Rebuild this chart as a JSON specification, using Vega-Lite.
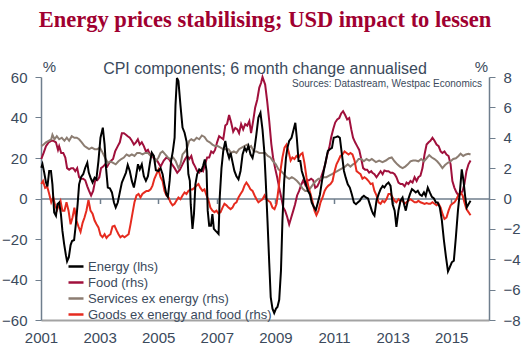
{
"$schema": "https://vega.github.io/schema/vega-lite/v6.json",
"width": 448, "height": 243,
"autosize": {"type": "none"},
"padding": {"left": 41, "top": 77, "right": 39, "bottom": 36},
"background": "white",
"title": {"text": "Energy prices stabilising; USD impact to lessen", "subtitle": "CPI components; 6 month change annualised", "font": "Liberation Serif", "fontSize": 22.5, "fontWeight": "bold", "color": "#a00030", "subtitleFont": "Liberation Sans", "subtitleFontSize": 16, "subtitleColor": "#3b4a5c", "subtitlePadding": 30, "anchor": "middle", "frame": "group", "offset": -18},
"config": {
 "view": {"stroke": null},
 "axis": {"labelFont": "Liberation Sans", "titleFont": "Liberation Sans", "grid": false, "domainColor": "#6f7e8d", "tickColor": "#6f7e8d", "labelColor": "#3b4a5c", "titleColor": "#3b4a5c", "labelFontSize": 15, "titleFontSize": 15, "titleFontWeight": "normal", "labelOverlap": false, "labelSeparation": 0, "labelBound": false},
 "legend": {"orient": "none", "legendX": 26, "legendY": 180.5, "symbolType": "stroke", "symbolSize": 225, "symbolStrokeWidth": 2.5, "labelFont": "Liberation Sans", "labelFontSize": 13, "labelColor": "#3b4a5c", "labelLimit": 0, "rowPadding": 0, "padding": 0, "labelOffset": 3, "title": null}
},
"datasets": {
"e": [
{"t":2001.01,"v":15.2},{"t":2001.05,"v":17},{"t":2001.11,"v":12.8},{"t":2001.17,"v":7.9},{"t":2001.22,"v":6},{"t":2001.28,"v":13.6},{"t":2001.34,"v":13.6},{"t":2001.39,"v":7},{"t":2001.45,"v":-6.9},{"t":2001.51,"v":-8.5},{"t":2001.56,"v":-2.8},{"t":2001.62,"v":-2},{"t":2001.68,"v":-7.7},{"t":2001.73,"v":-15.9},{"t":2001.79,"v":-22.5},{"t":2001.85,"v":-28},{"t":2001.89,"v":-31},{"t":2001.95,"v":-29},{"t":2002.01,"v":-23},{"t":2002.06,"v":-21},{"t":2002.13,"v":-20.5},{"t":2002.19,"v":-12.6},{"t":2002.25,"v":-2.8},{"t":2002.30,"v":7},{"t":2002.37,"v":10.7},{"t":2002.44,"v":12},{"t":2002.51,"v":15.2},{"t":2002.58,"v":17.7},{"t":2002.63,"v":12.8},{"t":2002.69,"v":10.3},{"t":2002.76,"v":7.9},{"t":2002.83,"v":10.3},{"t":2002.89,"v":9.5},{"t":2002.96,"v":18.5},{"t":2003.03,"v":30},{"t":2003.11,"v":35},{"t":2003.17,"v":26.7},{"t":2003.22,"v":15},{"t":2003.28,"v":5.4},{"t":2003.35,"v":5},{"t":2003.42,"v":3},{"t":2003.49,"v":-2},{"t":2003.55,"v":-4.4},{"t":2003.62,"v":-2},{"t":2003.69,"v":3},{"t":2003.76,"v":7.9},{"t":2003.83,"v":10.3},{"t":2003.90,"v":12.8},{"t":2003.96,"v":16.6},{"t":2004.03,"v":13.6},{"t":2004.10,"v":8.7},{"t":2004.17,"v":5.4},{"t":2004.24,"v":10.7},{"t":2004.31,"v":16.9},{"t":2004.37,"v":14.4},{"t":2004.44,"v":16.9},{"t":2004.51,"v":11},{"t":2004.58,"v":8.7},{"t":2004.65,"v":11},{"t":2004.72,"v":17.7},{"t":2004.78,"v":22.6},{"t":2004.85,"v":21},{"t":2004.92,"v":14},{"t":2005.01,"v":13.6},{"t":2005.08,"v":15},{"t":2005.15,"v":12},{"t":2005.21,"v":7},{"t":2005.28,"v":2},{"t":2005.33,"v":0.8},{"t":2005.39,"v":8.7},{"t":2005.44,"v":18.5},{"t":2005.50,"v":23.4},{"t":2005.56,"v":30},{"t":2005.59,"v":46},{"t":2005.64,"v":59.5},{"t":2005.69,"v":58},{"t":2005.76,"v":46},{"t":2005.83,"v":35},{"t":2005.90,"v":32.5},{"t":2005.97,"v":28},{"t":2006.03,"v":12},{"t":2006.08,"v":8.7},{"t":2006.11,"v":-2.8},{"t":2006.17,"v":-15},{"t":2006.22,"v":-7.7},{"t":2006.27,"v":7},{"t":2006.33,"v":12},{"t":2006.40,"v":14.4},{"t":2006.47,"v":13.6},{"t":2006.53,"v":16},{"t":2006.59,"v":19.3},{"t":2006.65,"v":13.6},{"t":2006.69,"v":-6},{"t":2006.74,"v":-13.4},{"t":2006.80,"v":-13.4},{"t":2006.85,"v":-7.7},{"t":2006.90,"v":-15},{"t":2006.96,"v":-16},{"t":2007.01,"v":-16.7},{"t":2007.06,"v":-17.5},{"t":2007.10,"v":0.5},{"t":2007.16,"v":15},{"t":2007.22,"v":23.4},{"t":2007.29,"v":28.4},{"t":2007.35,"v":23.4},{"t":2007.42,"v":20},{"t":2007.47,"v":22.6},{"t":2007.54,"v":17.7},{"t":2007.60,"v":13.6},{"t":2007.67,"v":11},{"t":2007.74,"v":9.5},{"t":2007.81,"v":13.6},{"t":2007.88,"v":21.8},{"t":2007.95,"v":25},{"t":2008.01,"v":23.4},{"t":2008.08,"v":26},{"t":2008.15,"v":21.8},{"t":2008.22,"v":20},{"t":2008.29,"v":25},{"t":2008.35,"v":31.6},{"t":2008.42,"v":40},{"t":2008.49,"v":42.3},{"t":2008.56,"v":34},{"t":2008.62,"v":23.4},{"t":2008.67,"v":8.7},{"t":2008.73,"v":-11},{"t":2008.79,"v":-32},{"t":2008.84,"v":-48.7},{"t":2008.90,"v":-54.4},{"t":2008.96,"v":-56.6},{"t":2009.02,"v":-54.4},{"t":2009.07,"v":-53.6},{"t":2009.13,"v":-50},{"t":2009.19,"v":-35.6},{"t":2009.24,"v":-11},{"t":2009.30,"v":8.7},{"t":2009.36,"v":20},{"t":2009.41,"v":25},{"t":2009.47,"v":28.4},{"t":2009.55,"v":30},{"t":2009.62,"v":34},{"t":2009.68,"v":37.4},{"t":2009.73,"v":30},{"t":2009.79,"v":18.5},{"t":2009.85,"v":18.5},{"t":2009.90,"v":13.6},{"t":2009.97,"v":10.3},{"t":2010.04,"v":7},{"t":2010.11,"v":3.8},{"t":2010.18,"v":2},{"t":2010.24,"v":-2},{"t":2010.32,"v":-4.4},{"t":2010.38,"v":-5.7},{"t":2010.45,"v":-2},{"t":2010.52,"v":2},{"t":2010.59,"v":8.7},{"t":2010.65,"v":13.6},{"t":2010.72,"v":18.5},{"t":2010.79,"v":23.4},{"t":2010.86,"v":24.3},{"t":2010.93,"v":25},{"t":2010.99,"v":30},{"t":2011.06,"v":30.3},{"t":2011.13,"v":30.7},{"t":2011.20,"v":30},{"t":2011.27,"v":21.8},{"t":2011.34,"v":13.6},{"t":2011.40,"v":10.3},{"t":2011.47,"v":7},{"t":2011.54,"v":5.4},{"t":2011.61,"v":2},{"t":2011.68,"v":-2},{"t":2011.75,"v":-2.8},{"t":2011.81,"v":-2},{"t":2011.88,"v":-1.1},{"t":2011.95,"v":0.5},{"t":2012.02,"v":1.3},{"t":2012.09,"v":0.5},{"t":2012.16,"v":0},{"t":2012.22,"v":-2.8},{"t":2012.29,"v":-6},{"t":2012.34,"v":-7.7},{"t":2012.38,"v":-8.5},{"t":2012.45,"v":-1.1},{"t":2012.52,"v":2},{"t":2012.59,"v":4.6},{"t":2012.66,"v":6.2},{"t":2012.72,"v":5.4},{"t":2012.79,"v":7},{"t":2012.86,"v":7.9},{"t":2012.93,"v":6.2},{"t":2013.00,"v":-2.8},{"t":2013.07,"v":-6},{"t":2013.13,"v":-14},{"t":2013.20,"v":-6},{"t":2013.27,"v":-1.1},{"t":2013.34,"v":0.5},{"t":2013.40,"v":-3.3},{"t":2013.45,"v":-6},{"t":2013.52,"v":-1.1},{"t":2013.59,"v":2},{"t":2013.66,"v":4.6},{"t":2013.73,"v":3.8},{"t":2013.79,"v":3},{"t":2013.86,"v":3.8},{"t":2013.93,"v":2},{"t":2014.00,"v":1.3},{"t":2014.07,"v":3},{"t":2014.13,"v":1.3},{"t":2014.20,"v":5.4},{"t":2014.27,"v":3},{"t":2014.34,"v":0.8},{"t":2014.41,"v":0},{"t":2014.48,"v":-2},{"t":2014.54,"v":-2},{"t":2014.61,"v":-4.4},{"t":2014.68,"v":-10.7},{"t":2014.75,"v":-20.5},{"t":2014.82,"v":-28.7},{"t":2014.89,"v":-36},{"t":2014.95,"v":-34},{"t":2015.02,"v":-31.5},{"t":2015.09,"v":-30.7},{"t":2015.16,"v":-19},{"t":2015.23,"v":-6},{"t":2015.30,"v":3.8},{"t":2015.36,"v":14.4},{"t":2015.42,"v":8.7},{"t":2015.48,"v":0.5},{"t":2015.53,"v":-4.4},{"t":2015.59,"v":-2.8},{"t":2015.66,"v":-1.1}
],
"f": [
{"t":2001.01,"v":2.6},{"t":2001.09,"v":3.0},{"t":2001.17,"v":3.45},{"t":2001.26,"v":3.7},{"t":2001.35,"v":3.8},{"t":2001.43,"v":3.8},{"t":2001.51,"v":3.7},{"t":2001.58,"v":3.2},{"t":2001.62,"v":3.45},{"t":2001.69,"v":3.0},{"t":2001.76,"v":3.0},{"t":2001.83,"v":2.7},{"t":2001.89,"v":2.0},{"t":2001.96,"v":1.9},{"t":2002.03,"v":2.0},{"t":2002.10,"v":2.0},{"t":2002.17,"v":1.8},{"t":2002.235,"v":2.0},{"t":2002.30,"v":1.4},{"t":2002.37,"v":1.3},{"t":2002.44,"v":1.3},{"t":2002.51,"v":1.2},{"t":2002.58,"v":0.8},{"t":2002.64,"v":0.5},{"t":2002.71,"v":0.2},{"t":2002.78,"v":0.5},{"t":2002.85,"v":1.2},{"t":2002.92,"v":1.2},{"t":2002.99,"v":1.4},{"t":2003.05,"v":2.0},{"t":2003.12,"v":2.1},{"t":2003.19,"v":2.25},{"t":2003.26,"v":2.1},{"t":2003.33,"v":2.35},{"t":2003.40,"v":2.5},{"t":2003.46,"v":2.6},{"t":2003.53,"v":3.1},{"t":2003.62,"v":3.45},{"t":2003.69,"v":3.7},{"t":2003.76,"v":4.3},{"t":2003.83,"v":4.3},{"t":2003.90,"v":4.2},{"t":2003.96,"v":4.1},{"t":2004.03,"v":4.0},{"t":2004.10,"v":3.8},{"t":2004.17,"v":3.55},{"t":2004.24,"v":3.7},{"t":2004.305,"v":3.9},{"t":2004.37,"v":3.55},{"t":2004.44,"v":3.7},{"t":2004.51,"v":3.45},{"t":2004.58,"v":3.1},{"t":2004.65,"v":3.2},{"t":2004.715,"v":2.9},{"t":2004.78,"v":2.9},{"t":2004.85,"v":2.65},{"t":2004.96,"v":2.5},{"t":2005.08,"v":2.1},{"t":2005.19,"v":2.5},{"t":2005.28,"v":2.7},{"t":2005.37,"v":2.6},{"t":2005.47,"v":2.25},{"t":2005.56,"v":2.0},{"t":2005.65,"v":1.7},{"t":2005.74,"v":1.9},{"t":2005.83,"v":2.25},{"t":2005.92,"v":2.6},{"t":2005.99,"v":2.8},{"t":2006.06,"v":2.6},{"t":2006.13,"v":2.8},{"t":2006.19,"v":2.35},{"t":2006.26,"v":2.1},{"t":2006.33,"v":1.8},{"t":2006.40,"v":1.7},{"t":2006.47,"v":1.9},{"t":2006.53,"v":1.8},{"t":2006.60,"v":2.25},{"t":2006.67,"v":2.7},{"t":2006.74,"v":2.7},{"t":2006.81,"v":3.1},{"t":2006.88,"v":3.0},{"t":2006.94,"v":3.2},{"t":2007.01,"v":3.7},{"t":2007.08,"v":4.1},{"t":2007.15,"v":4.0},{"t":2007.22,"v":3.9},{"t":2007.29,"v":4.8},{"t":2007.35,"v":4.9},{"t":2007.42,"v":5.5},{"t":2007.49,"v":5.0},{"t":2007.56,"v":4.4},{"t":2007.63,"v":4.65},{"t":2007.70,"v":4.55},{"t":2007.76,"v":4.3},{"t":2007.83,"v":4.9},{"t":2007.90,"v":4.55},{"t":2007.97,"v":4.9},{"t":2008.04,"v":4.8},{"t":2008.11,"v":5.1},{"t":2008.17,"v":4.3},{"t":2008.24,"v":5.1},{"t":2008.31,"v":6.0},{"t":2008.38,"v":6.5},{"t":2008.45,"v":7.3},{"t":2008.51,"v":7.6},{"t":2008.56,"v":8.0},{"t":2008.65,"v":7.5},{"t":2008.72,"v":6.4},{"t":2008.79,"v":5.1},{"t":2008.86,"v":3.6},{"t":2008.92,"v":2.7},{"t":2008.99,"v":2.0},{"t":2009.06,"v":1.4},{"t":2009.13,"v":0.7},{"t":2009.20,"v":0.07},{"t":2009.27,"v":-0.6},{"t":2009.33,"v":-0.8},{"t":2009.40,"v":-1.2},{"t":2009.47,"v":-1.7},{"t":2009.54,"v":-1.25},{"t":2009.61,"v":-0.8},{"t":2009.67,"v":-0.4},{"t":2009.74,"v":0.2},{"t":2009.81,"v":0.5},{"t":2009.88,"v":0.9},{"t":2009.95,"v":1.2},{"t":2010.02,"v":0.9},{"t":2010.08,"v":1.2},{"t":2010.15,"v":1.2},{"t":2010.22,"v":1.3},{"t":2010.29,"v":1.2},{"t":2010.36,"v":0.7},{"t":2010.43,"v":0.8},{"t":2010.49,"v":1.05},{"t":2010.56,"v":1.4},{"t":2010.63,"v":1.8},{"t":2010.70,"v":2.25},{"t":2010.77,"v":2.9},{"t":2010.84,"v":3.35},{"t":2010.90,"v":4.0},{"t":2010.97,"v":4.55},{"t":2011.04,"v":5.0},{"t":2011.11,"v":5.2},{"t":2011.18,"v":5.3},{"t":2011.245,"v":5.6},{"t":2011.31,"v":5.75},{"t":2011.38,"v":5.5},{"t":2011.45,"v":5.2},{"t":2011.52,"v":5.3},{"t":2011.59,"v":4.55},{"t":2011.65,"v":4.0},{"t":2011.72,"v":3.7},{"t":2011.79,"v":3.45},{"t":2011.86,"v":3.2},{"t":2011.93,"v":2.6},{"t":2011.995,"v":2.0},{"t":2012.06,"v":1.9},{"t":2012.13,"v":1.9},{"t":2012.20,"v":1.7},{"t":2012.27,"v":1.8},{"t":2012.31,"v":1.7},{"t":2012.38,"v":1.6},{"t":2012.45,"v":1.4},{"t":2012.52,"v":1.6},{"t":2012.59,"v":1.8},{"t":2012.66,"v":1.6},{"t":2012.72,"v":1.85},{"t":2012.79,"v":1.8},{"t":2012.86,"v":1.8},{"t":2012.93,"v":1.7},{"t":2013.00,"v":1.7},{"t":2013.07,"v":1.6},{"t":2013.13,"v":1.4},{"t":2013.20,"v":1.05},{"t":2013.27,"v":0.95},{"t":2013.34,"v":0.95},{"t":2013.41,"v":0.8},{"t":2013.475,"v":1.05},{"t":2013.54,"v":0.95},{"t":2013.61,"v":1.15},{"t":2013.68,"v":1.05},{"t":2013.75,"v":1.4},{"t":2013.82,"v":1.15},{"t":2013.88,"v":1.4},{"t":2013.95,"v":1.5},{"t":2014.02,"v":2.0},{"t":2014.09,"v":2.9},{"t":2014.16,"v":3.55},{"t":2014.23,"v":3.7},{"t":2014.29,"v":3.8},{"t":2014.36,"v":4.0},{"t":2014.43,"v":3.8},{"t":2014.50,"v":3.55},{"t":2014.57,"v":3.45},{"t":2014.64,"v":3.1},{"t":2014.70,"v":3.0},{"t":2014.77,"v":3.1},{"t":2014.84,"v":2.9},{"t":2014.91,"v":2.8},{"t":2014.98,"v":2.25},{"t":2015.04,"v":1.15},{"t":2015.11,"v":0.7},{"t":2015.18,"v":0.4},{"t":2015.25,"v":0.2},{"t":2015.32,"v":0.3},{"t":2015.39,"v":0.5},{"t":2015.45,"v":0.95},{"t":2015.52,"v":1.8},{"t":2015.59,"v":2.25},{"t":2015.66,"v":2.5}
],
"s": [
{"t":2001.01,"v":3.45},{"t":2001.09,"v":3.55},{"t":2001.17,"v":3.7},{"t":2001.26,"v":3.8},{"t":2001.35,"v":3.9},{"t":2001.39,"v":4.2},{"t":2001.46,"v":3.9},{"t":2001.54,"v":4.1},{"t":2001.62,"v":3.9},{"t":2001.71,"v":4.0},{"t":2001.80,"v":3.8},{"t":2001.88,"v":4.0},{"t":2001.96,"v":3.8},{"t":2002.05,"v":4.1},{"t":2002.14,"v":4.0},{"t":2002.22,"v":4.0},{"t":2002.30,"v":3.9},{"t":2002.39,"v":3.7},{"t":2002.485,"v":3.45},{"t":2002.565,"v":3.35},{"t":2002.64,"v":3.25},{"t":2002.735,"v":3.35},{"t":2002.83,"v":3.25},{"t":2002.92,"v":3.25},{"t":2003.01,"v":3.35},{"t":2003.08,"v":3.1},{"t":2003.145,"v":2.85},{"t":2003.21,"v":2.6},{"t":2003.28,"v":2.35},{"t":2003.37,"v":2.45},{"t":2003.46,"v":2.35},{"t":2003.55,"v":2.25},{"t":2003.645,"v":2.45},{"t":2003.74,"v":2.6},{"t":2003.83,"v":2.7},{"t":2003.92,"v":2.9},{"t":2004.01,"v":2.8},{"t":2004.10,"v":2.9},{"t":2004.19,"v":2.8},{"t":2004.28,"v":3.0},{"t":2004.37,"v":3.0},{"t":2004.465,"v":2.9},{"t":2004.555,"v":3.0},{"t":2004.65,"v":3.0},{"t":2004.74,"v":2.8},{"t":2004.83,"v":2.85},{"t":2004.92,"v":2.45},{"t":2005.01,"v":2.7},{"t":2005.08,"v":3.0},{"t":2005.15,"v":3.1},{"t":2005.24,"v":2.9},{"t":2005.33,"v":2.7},{"t":2005.42,"v":2.6},{"t":2005.51,"v":2.7},{"t":2005.60,"v":2.45},{"t":2005.69,"v":2.0},{"t":2005.76,"v":2.25},{"t":2005.83,"v":2.9},{"t":2005.92,"v":3.1},{"t":2005.99,"v":3.35},{"t":2006.06,"v":3.8},{"t":2006.13,"v":3.9},{"t":2006.22,"v":3.8},{"t":2006.31,"v":4.0},{"t":2006.40,"v":3.9},{"t":2006.49,"v":4.15},{"t":2006.58,"v":4.05},{"t":2006.67,"v":3.8},{"t":2006.76,"v":3.7},{"t":2006.85,"v":3.55},{"t":2006.94,"v":3.45},{"t":2007.03,"v":3.45},{"t":2007.13,"v":3.35},{"t":2007.22,"v":3.25},{"t":2007.31,"v":3.25},{"t":2007.40,"v":3.25},{"t":2007.49,"v":3.0},{"t":2007.58,"v":3.1},{"t":2007.67,"v":3.0},{"t":2007.76,"v":3.25},{"t":2007.85,"v":3.35},{"t":2007.94,"v":3.45},{"t":2008.04,"v":3.55},{"t":2008.10,"v":3.35},{"t":2008.17,"v":3.45},{"t":2008.26,"v":3.1},{"t":2008.35,"v":3.1},{"t":2008.45,"v":3.0},{"t":2008.54,"v":3.0},{"t":2008.65,"v":3.0},{"t":2008.74,"v":2.8},{"t":2008.83,"v":2.7},{"t":2008.92,"v":2.45},{"t":2009.015,"v":2.25},{"t":2009.11,"v":1.9},{"t":2009.20,"v":1.8},{"t":2009.29,"v":1.6},{"t":2009.38,"v":1.4},{"t":2009.47,"v":1.3},{"t":2009.56,"v":1.4},{"t":2009.65,"v":1.3},{"t":2009.74,"v":1.15},{"t":2009.83,"v":0.95},{"t":2009.925,"v":0.65},{"t":2010.02,"v":0.5},{"t":2010.11,"v":0.5},{"t":2010.20,"v":0.7},{"t":2010.29,"v":0.95},{"t":2010.38,"v":1.15},{"t":2010.47,"v":1.3},{"t":2010.56,"v":1.3},{"t":2010.65,"v":1.4},{"t":2010.74,"v":1.4},{"t":2010.835,"v":1.5},{"t":2010.93,"v":1.6},{"t":2011.02,"v":1.7},{"t":2011.11,"v":1.8},{"t":2011.20,"v":1.9},{"t":2011.29,"v":2.0},{"t":2011.38,"v":2.1},{"t":2011.47,"v":2.25},{"t":2011.56,"v":2.1},{"t":2011.65,"v":2.25},{"t":2011.745,"v":2.35},{"t":2011.84,"v":2.6},{"t":2011.93,"v":2.6},{"t":2012.02,"v":2.45},{"t":2012.11,"v":2.6},{"t":2012.20,"v":2.5},{"t":2012.29,"v":2.6},{"t":2012.43,"v":2.4},{"t":2012.54,"v":2.5},{"t":2012.655,"v":2.4},{"t":2012.77,"v":2.5},{"t":2012.88,"v":2.65},{"t":2012.97,"v":2.7},{"t":2013.065,"v":2.45},{"t":2013.16,"v":2.25},{"t":2013.25,"v":2.1},{"t":2013.34,"v":2.0},{"t":2013.43,"v":2.1},{"t":2013.52,"v":2.25},{"t":2013.61,"v":2.45},{"t":2013.70,"v":2.5},{"t":2013.79,"v":2.5},{"t":2013.88,"v":2.45},{"t":2013.975,"v":2.6},{"t":2014.07,"v":2.45},{"t":2014.16,"v":2.65},{"t":2014.25,"v":2.85},{"t":2014.34,"v":2.7},{"t":2014.43,"v":2.6},{"t":2014.52,"v":2.45},{"t":2014.61,"v":2.25},{"t":2014.70,"v":2.0},{"t":2014.79,"v":2.2},{"t":2014.885,"v":2.35},{"t":2014.98,"v":2.45},{"t":2015.07,"v":2.6},{"t":2015.16,"v":2.65},{"t":2015.25,"v":2.8},{"t":2015.32,"v":2.95},{"t":2015.41,"v":2.8},{"t":2015.50,"v":2.9},{"t":2015.59,"v":2.95},{"t":2015.66,"v":2.9}
],
"g": [
{"t":2001.01,"v":0.95},{"t":2001.07,"v":1.15},{"t":2001.14,"v":0.7},{"t":2001.21,"v":0.8},{"t":2001.28,"v":0.3},{"t":2001.35,"v":-0.25},{"t":2001.42,"v":0.07},{"t":2001.48,"v":-0.45},{"t":2001.55,"v":-0.75},{"t":2001.62,"v":-0.35},{"t":2001.665,"v":-0.15},{"t":2001.73,"v":-0.8},{"t":2001.80,"v":-0.8},{"t":2001.87,"v":-0.25},{"t":2001.94,"v":-0.8},{"t":2002.01,"v":-1.7},{"t":2002.075,"v":-1.25},{"t":2002.14,"v":-0.6},{"t":2002.21,"v":-1.45},{"t":2002.28,"v":-1.85},{"t":2002.35,"v":-2.2},{"t":2002.42,"v":-1.6},{"t":2002.485,"v":-1.25},{"t":2002.55,"v":-0.8},{"t":2002.62,"v":-0.1},{"t":2002.69,"v":-0.8},{"t":2002.76,"v":-1.0},{"t":2002.83,"v":-1.45},{"t":2002.895,"v":-1.7},{"t":2002.96,"v":-1.9},{"t":2003.03,"v":-2.4},{"t":2003.10,"v":-2.55},{"t":2003.17,"v":-2.35},{"t":2003.236,"v":-2.6},{"t":2003.30,"v":-2.45},{"t":2003.37,"v":-2.35},{"t":2003.44,"v":-1.85},{"t":2003.51,"v":-1.8},{"t":2003.58,"v":-2.1},{"t":2003.645,"v":-2.35},{"t":2003.71,"v":-2.55},{"t":2003.78,"v":-2.45},{"t":2003.85,"v":-2.55},{"t":2003.92,"v":-2.45},{"t":2003.99,"v":-2.35},{"t":2004.055,"v":-1.7},{"t":2004.12,"v":-1.0},{"t":2004.19,"v":-0.25},{"t":2004.26,"v":0.2},{"t":2004.33,"v":0.3},{"t":2004.395,"v":0.07},{"t":2004.46,"v":0.3},{"t":2004.53,"v":0.4},{"t":2004.60,"v":0.5},{"t":2004.67,"v":0.5},{"t":2004.74,"v":0.6},{"t":2004.805,"v":0.85},{"t":2004.87,"v":1.3},{"t":2004.94,"v":1.6},{"t":2005.01,"v":1.9},{"t":2005.08,"v":1.4},{"t":2005.15,"v":1.15},{"t":2005.215,"v":0.5},{"t":2005.28,"v":0.2},{"t":2005.35,"v":0.07},{"t":2005.42,"v":-0.25},{"t":2005.49,"v":-0.45},{"t":2005.56,"v":-0.35},{"t":2005.62,"v":-0.15},{"t":2005.69,"v":0.07},{"t":2005.76,"v":-0.05},{"t":2005.83,"v":0.2},{"t":2005.90,"v":0.4},{"t":2005.965,"v":0.3},{"t":2006.03,"v":0.5},{"t":2006.10,"v":0.6},{"t":2006.17,"v":0.6},{"t":2006.24,"v":0.7},{"t":2006.31,"v":0.85},{"t":2006.375,"v":0.95},{"t":2006.44,"v":0.7},{"t":2006.51,"v":0.5},{"t":2006.58,"v":0.6},{"t":2006.65,"v":0.2},{"t":2006.72,"v":-0.15},{"t":2006.78,"v":-0.6},{"t":2006.85,"v":-0.8},{"t":2006.92,"v":-0.9},{"t":2006.99,"v":-0.8},{"t":2007.06,"v":-1.0},{"t":2007.13,"v":-0.9},{"t":2007.195,"v":-0.6},{"t":2007.26,"v":-0.35},{"t":2007.33,"v":-0.45},{"t":2007.40,"v":-0.6},{"t":2007.47,"v":-0.7},{"t":2007.535,"v":-0.6},{"t":2007.60,"v":-0.35},{"t":2007.67,"v":-0.25},{"t":2007.74,"v":0.07},{"t":2007.81,"v":0.3},{"t":2007.88,"v":0.5},{"t":2007.945,"v":0.85},{"t":2008.01,"v":1.05},{"t":2008.08,"v":0.85},{"t":2008.15,"v":0.6},{"t":2008.22,"v":0.5},{"t":2008.29,"v":0.2},{"t":2008.355,"v":-0.05},{"t":2008.42,"v":-0.25},{"t":2008.49,"v":-0.15},{"t":2008.56,"v":-0.05},{"t":2008.63,"v":0.2},{"t":2008.70,"v":-0.05},{"t":2008.76,"v":-0.15},{"t":2008.83,"v":-0.25},{"t":2008.90,"v":-0.6},{"t":2008.97,"v":-0.7},{"t":2009.04,"v":-0.35},{"t":2009.11,"v":0.7},{"t":2009.17,"v":1.8},{"t":2009.24,"v":2.7},{"t":2009.31,"v":3.35},{"t":2009.38,"v":3.55},{"t":2009.45,"v":3.1},{"t":2009.52,"v":2.5},{"t":2009.58,"v":2.7},{"t":2009.65,"v":2.6},{"t":2009.72,"v":2.8},{"t":2009.79,"v":2.7},{"t":2009.86,"v":2.9},{"t":2009.925,"v":3.0},{"t":2009.99,"v":2.35},{"t":2010.06,"v":1.4},{"t":2010.13,"v":0.75},{"t":2010.20,"v":0.3},{"t":2010.27,"v":-0.25},{"t":2010.335,"v":-0.8},{"t":2010.40,"v":-1.1},{"t":2010.47,"v":-0.8},{"t":2010.54,"v":-0.25},{"t":2010.61,"v":0.07},{"t":2010.68,"v":0.5},{"t":2010.74,"v":0.7},{"t":2010.81,"v":0.85},{"t":2010.88,"v":0.95},{"t":2010.95,"v":1.15},{"t":2011.02,"v":1.8},{"t":2011.085,"v":2.25},{"t":2011.15,"v":2.5},{"t":2011.22,"v":2.8},{"t":2011.29,"v":2.9},{"t":2011.36,"v":3.1},{"t":2011.43,"v":3.0},{"t":2011.495,"v":2.9},{"t":2011.56,"v":3.0},{"t":2011.63,"v":2.9},{"t":2011.70,"v":2.5},{"t":2011.77,"v":1.8},{"t":2011.84,"v":1.7},{"t":2011.905,"v":1.6},{"t":2011.97,"v":1.3},{"t":2012.04,"v":1.4},{"t":2012.11,"v":1.3},{"t":2012.18,"v":1.15},{"t":2012.25,"v":0.95},{"t":2012.315,"v":1.0},{"t":2012.38,"v":0.5},{"t":2012.45,"v":0.2},{"t":2012.52,"v":-0.25},{"t":2012.59,"v":-0.35},{"t":2012.655,"v":-0.15},{"t":2012.72,"v":-0.25},{"t":2012.79,"v":-0.05},{"t":2012.86,"v":0.3},{"t":2012.93,"v":0.3},{"t":2013.00,"v":0.07},{"t":2013.065,"v":-0.15},{"t":2013.13,"v":-0.25},{"t":2013.20,"v":-0.05},{"t":2013.27,"v":-0.15},{"t":2013.34,"v":-0.15},{"t":2013.41,"v":-0.35},{"t":2013.475,"v":-0.25},{"t":2013.54,"v":-0.15},{"t":2013.61,"v":-0.05},{"t":2013.68,"v":-0.15},{"t":2013.75,"v":-0.25},{"t":2013.82,"v":-0.25},{"t":2013.88,"v":-0.15},{"t":2013.95,"v":-0.25},{"t":2014.02,"v":-0.3},{"t":2014.09,"v":-0.35},{"t":2014.16,"v":-0.3},{"t":2014.23,"v":-0.35},{"t":2014.29,"v":-0.35},{"t":2014.36,"v":-0.25},{"t":2014.43,"v":-0.35},{"t":2014.50,"v":-0.45},{"t":2014.57,"v":-0.35},{"t":2014.64,"v":-0.6},{"t":2014.70,"v":-1.0},{"t":2014.77,"v":-1.35},{"t":2014.84,"v":-1.25},{"t":2014.91,"v":-0.8},{"t":2014.98,"v":-0.45},{"t":2015.04,"v":-0.35},{"t":2015.11,"v":-0.25},{"t":2015.18,"v":-0.05},{"t":2015.25,"v":0.25},{"t":2015.32,"v":0.4},{"t":2015.39,"v":0.2},{"t":2015.45,"v":-0.25},{"t":2015.52,"v":-0.7},{"t":2015.59,"v":-0.9},{"t":2015.66,"v":-1.1}
]
},
"layer": [
 {"layer": [
  {"data": {"name": "f"}, "mark": {"type": "line", "strokeWidth": 2},
   "encoding": {
    "x": {"field": "t", "type": "quantitative", "scale": {"domain": [2001, 2016.29], "nice": false, "zero": false}, "axis": {"orient": "bottom", "values": [2001,2003,2005,2007,2009,2011,2013,2015], "format": "d", "ticks": false, "tickSize": 0, "labelPadding": 10, "labelFlush": false, "labelOverlap": false, "domainColor": "#a3a3a3", "domainWidth": 2, "title": null}},
    "y": {"field": "v", "type": "quantitative", "scale": {"domain": [-8, 8], "nice": false}, "axis": {"orient": "right", "values": [-8,-6,-4,-2,0,2,4,6,8], "format": "d", "labelOverlap": false, "labelSeparation": 0, "tickSize": 6, "labelPadding": 8, "domainWidth": 1.5, "title": "%", "titleAngle": 0, "titleX": -8, "titleY": -6, "titleAlign": "center", "titleBaseline": "alphabetic"}},
    "color": {"datum": "Food (rhs)", "type": "nominal", "scale": {"domain": ["Energy (lhs)", "Food (rhs)", "Services ex energy (rhs)", "Goods ex energy and food (rhs)"], "range": ["#000000", "#a0103c", "#8c7d72", "#e62b1f"]}}
   }},
  {"data": {"name": "s"}, "mark": {"type": "line", "strokeWidth": 2},
   "encoding": {"x": {"field": "t", "type": "quantitative"}, "y": {"field": "v", "type": "quantitative", "axis": {"orient": "right", "values": [-8,-6,-4,-2,0,2,4,6,8], "format": "d", "labelOverlap": false}}, "color": {"datum": "Services ex energy (rhs)", "type": "nominal"}}},
  {"data": {"name": "g"}, "mark": {"type": "line", "strokeWidth": 2},
   "encoding": {"x": {"field": "t", "type": "quantitative"}, "y": {"field": "v", "type": "quantitative", "axis": {"orient": "right", "values": [-8,-6,-4,-2,0,2,4,6,8], "format": "d", "labelOverlap": false}}, "color": {"datum": "Goods ex energy and food (rhs)", "type": "nominal"}}}
 ]},
 {"layer": [
  {"data": {"name": "e"}, "mark": {"type": "line", "strokeWidth": 2},
   "encoding": {
    "x": {"field": "t", "type": "quantitative", "scale": {"domain": [2001, 2016.29], "nice": false, "zero": false}, "axis": {"orient": "bottom", "offset": -121.5, "values": [2003,2005,2007,2009,2011,2013,2015], "labels": false, "ticks": true, "tickSize": 5, "tickWidth": 1.5, "domainWidth": 1.5, "title": null}},
    "y": {"field": "v", "type": "quantitative", "scale": {"domain": [-60, 60], "nice": false}, "axis": {"orient": "left", "values": [-60,-40,-20,0,20,40,60], "labelOverlap": false, "tickSize": 6, "labelPadding": 8, "domainWidth": 1.5, "title": "%", "titleAngle": 0, "titleX": 8, "titleY": -6, "titleAlign": "center", "titleBaseline": "alphabetic"}},
    "color": {"datum": "Energy (lhs)", "type": "nominal"}
   }},
  {"data": {"values": [{"t": 2016.05, "v": 56.5, "label": "Sources: Datastream, Westpac Economics"}]},
   "mark": {"type": "text", "align": "right", "baseline": "middle", "fontSize": 10, "font": "Liberation Sans", "color": "#3b4a5c"},
   "encoding": {"x": {"field": "t", "type": "quantitative"}, "y": {"field": "v", "type": "quantitative"}, "text": {"field": "label"}}}
 ]}
],
"resolve": {"scale": {"y": "independent"}, "axis": {"x": "independent", "y": "independent"}}
}
